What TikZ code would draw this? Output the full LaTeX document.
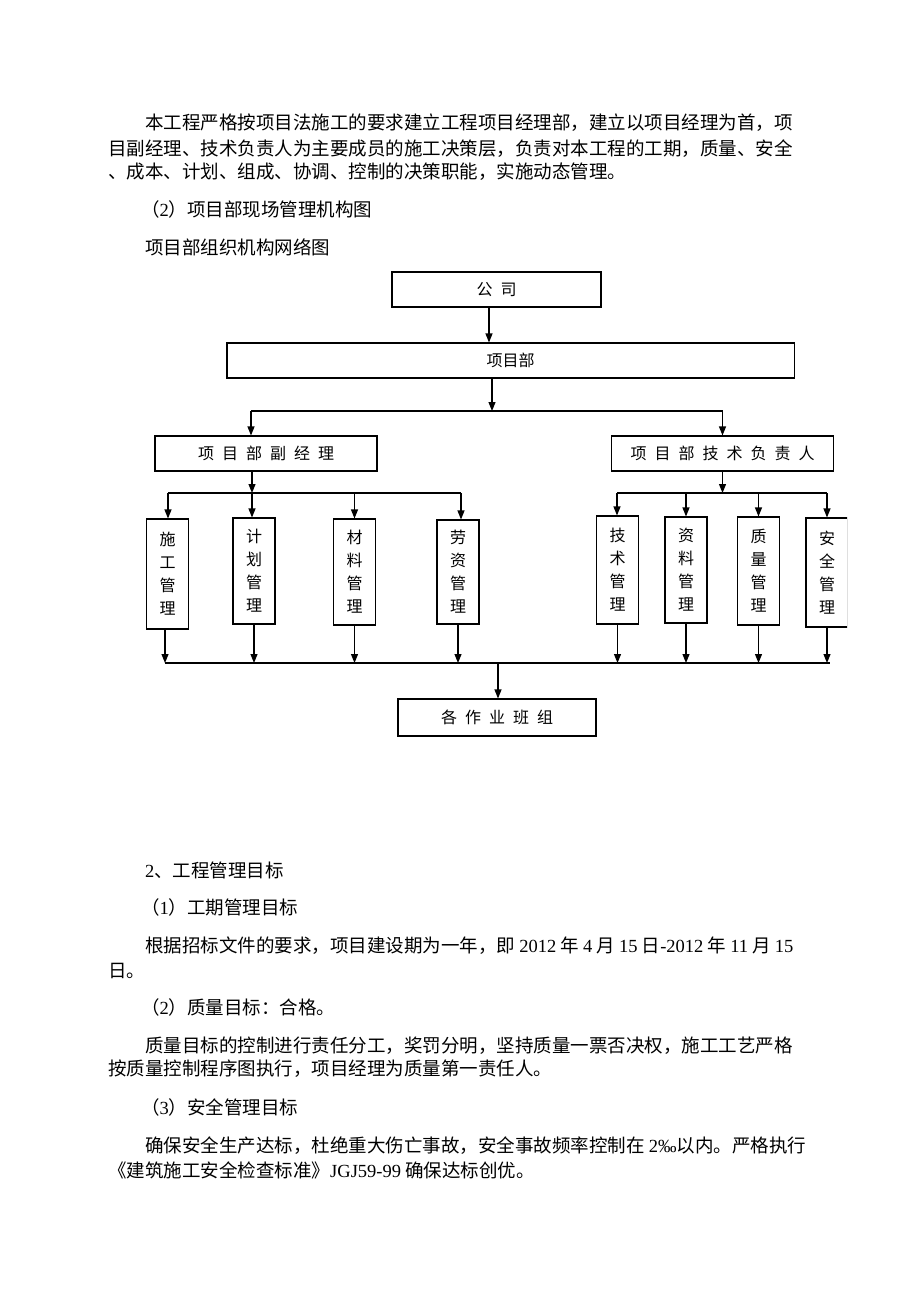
\documentclass[tikz,border=0pt]{standalone}
\usepackage{fontspec}
\setmainfont{Liberation Serif}
\newfontfamily\cjk{Noto Sans CJK SC}
\usetikzlibrary{arrows.meta}
\newcommand\wst[1]{{\rmfamily #1}}
\newcommand\gp{\hspace{8pt}}
\tikzset{
	box/.style={draw, line width=1.1pt, inner sep=0pt, minimum height=35pt, font=\cjk\fontsize{16}{18}\selectfont},
	vbox/.style={draw, line width=1.1pt, inner sep=0pt, minimum width=42pt, align=center, font=\cjk\fontsize{16}{23}\selectfont},
	arr/.style={line width=1.1pt, -{Triangle[length=9pt,width=7pt]}},
	bus/.style={line width=1.1pt},
	para/.style={anchor=base west, inner sep=0pt, font=\cjk\fontsize{18.5}{22}\selectfont},
}

\begin{document}
\begin{tikzpicture}[x=1pt,y=-1pt]
	\useasboundingbox (0,0) rectangle (920,1302);
	% text above the chart
	\node[para] (p1) at (145,129) {本工程严格按项目法施工的要求建立工程项目经理部，建立以项目经理为首，项};
	\node[para] (p2) at (108,155.5) {目副经理、技术负责人为主要成员的施工决策层，负责对本工程的工期，质量、安全};
	\node[para] (p3) at (108,178) {、成本、计划、组成、协调、控制的决策职能，实施动态管理。};
	\node[para] (p4) at (141,216) {（\wst{2}）项目部现场管理机构图};
	\node[para] (p5) at (145,254) {项目部组织机构网络图};

	% boxes
	\node[box, minimum width=209pt] (gs) at (496.5,289.5) {公\gp 司};
	\node[box, minimum width=567.5pt] (xmb) at (510.7,360.5) {项目部};
	\node[box, minimum width=222pt] (fjl) at (266,453.5) {项\gp 目\gp 部\gp 副\gp 经\gp 理};
	\node[box, minimum width=221.6pt] (jsf) at (722.5,453.5) {项\gp 目\gp 部\gp 技\gp 术\gp 负\gp 责\gp 人};

	\node[vbox, minimum height=110pt] (sg) at (167.5,574) {施\\工\\管\\理};
	\node[vbox, minimum height=106pt] (jh) at (254,571) {计\\划\\管\\理};
	\node[vbox, minimum height=106pt] (cl) at (354.5,572) {材\\料\\管\\理};
	\node[vbox, minimum height=104pt] (lz) at (458,572) {劳\\资\\管\\理};
	\node[vbox, minimum height=108pt] (js) at (617.5,570) {技\\术\\管\\理};
	\node[vbox, minimum height=106pt] (zl) at (686,570) {资\\料\\管\\理};
	\node[vbox, minimum height=108pt] (zlg) at (758.5,571) {质\\量\\管\\理};
	\begin{scope}
		\clip (0,0) rectangle (847,1302);
		\node[vbox, minimum height=109pt] (aq) at (827,572.5) {安\\全\\管\\理};
	\end{scope}

	\node[box, minimum width=198pt, minimum height=37pt] (bz) at (497,717.5) {各\gp 作\gp 业\gp 班\gp 组};

	% connectors
	\coordinate (c1) at (489,0);
	\draw[arr] (gs.south -| c1) -- (xmb.north -| c1);
	\coordinate (c2) at (492,411);
	\draw[arr] (xmb.south -| c2) -- (c2);
	\coordinate (b1l) at (251,411);
	\coordinate (b1r) at (722.5,411);
	\draw[bus] (b1l) -- (b1r);
	\draw[arr] (b1l) -- (fjl.north -| b1l);
	\draw[arr] (b1r) -- (jsf.north);

	\coordinate (b2l) at (168,493);
	\coordinate (b2r) at (461,493);
	\coordinate (c3) at (252,493);
	\draw[bus] (b2l) -- (b2r);
	\draw[arr] (fjl.south -| c3) -- (c3);
	\draw[arr] (b2l) -- (sg.north -| b2l);
	\draw[arr] (c3) -- (jh.north -| c3);
	\draw[arr] (cl.north |- b2l) -- (cl.north);
	\draw[arr] (b2r) -- (lz.north -| b2r);

	\coordinate (b3l) at (617,493);
	\coordinate (b3r) at (827,493);
	\draw[bus] (b3l) -- (b3r);
	\draw[arr] (jsf.south) -- (jsf.south |- b3l);
	\draw[arr] (b3l) -- (js.north -| b3l);
	\draw[arr] (zl.north |- b3l) -- (zl.north);
	\draw[arr] (zlg.north |- b3l) -- (zlg.north);
	\draw[arr] (b3r) -- (aq.north -| b3r);

	\coordinate (b4l) at (165,663);
	\coordinate (b4r) at (830,663);
	\draw[bus] (b4l) -- (b4r);
	\draw[arr] (sg.south -| b4l) -- (b4l);
	\draw[arr] (jh.south) -- (jh.south |- b4l);
	\draw[arr] (cl.south) -- (cl.south |- b4l);
	\draw[arr] (lz.south) -- (lz.south |- b4l);
	\draw[arr] (js.south) -- (js.south |- b4l);
	\draw[arr] (zl.south) -- (zl.south |- b4l);
	\draw[arr] (zlg.south) -- (zlg.south |- b4l);
	\draw[arr] (aq.south) -- (aq.south |- b4l);
	\coordinate (c4) at (498,663);
	\draw[arr] (c4) -- (bz.north -| c4);

	% text below the chart
	\node[para] (p6) at (145,877) {\wst{2}、工程管理目标};
	\node[para] (p7) at (141,914) {（\wst{1}）工期管理目标};
	\node[para] (p8) at (145,952) {根据招标文件的要求，项目建设期为一年，即 \wst{2012} 年 \wst{4} 月 \wst{15} 日\wst{-2012} 年 \wst{11} 月 \wst{15}};
	\node[para] (p9) at (108,977) {日。};
	\node[para] (p10) at (141,1014) {（\wst{2}）质量目标：合格。};
	\node[para] (p11) at (145,1052) {质量目标的控制进行责任分工，奖罚分明，坚持质量一票否决权，施工工艺严格};
	\node[para] (p12) at (108,1075) {按质量控制程序图执行，项目经理为质量第一责任人。};
	\node[para] (p13) at (141,1114) {（\wst{3}）安全管理目标};
	\node[para] (p14) at (145,1152) {确保安全生产达标，杜绝重大伤亡事故，安全事故频率控制在 \wst{2‰}以内。严格执行};
	\node[para] (p15) at (108,1177) {《建筑施工安全检查标准》\wst{JGJ59-99} 确保达标创优。};
\end{tikzpicture}
\end{document}
